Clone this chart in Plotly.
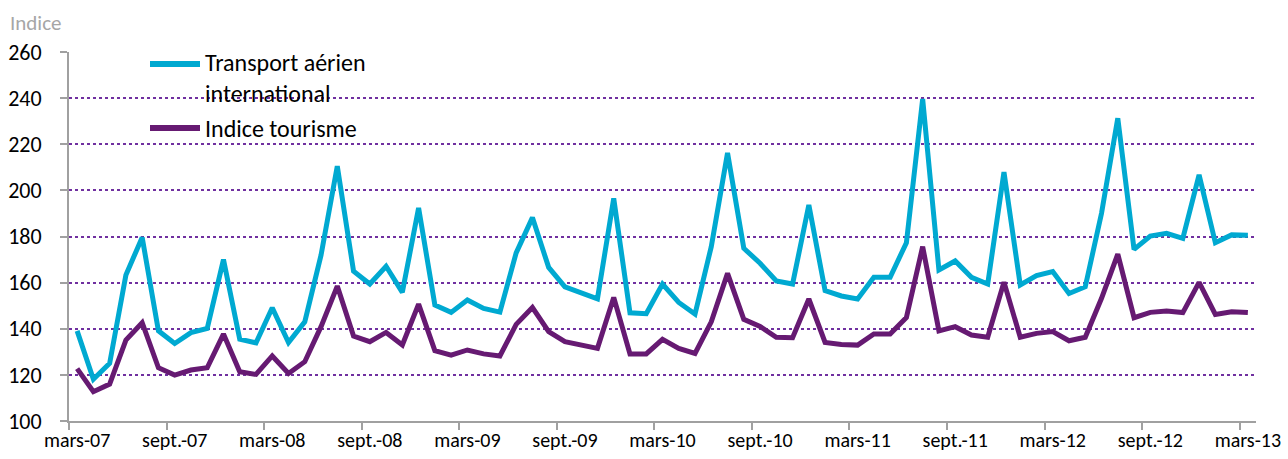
import plotly.graph_objects as go

# Monthly series, March 2007 to March 2013
months = [
    "mars-07", "avr.-07", "mai-07", "juin-07", "juil.-07", "août-07",
    "sept.-07", "oct.-07", "nov.-07", "déc.-07", "janv.-08", "févr.-08",
    "mars-08", "avr.-08", "mai-08", "juin-08", "juil.-08", "août-08",
    "sept.-08", "oct.-08", "nov.-08", "déc.-08", "janv.-09", "févr.-09",
    "mars-09", "avr.-09", "mai-09", "juin-09", "juil.-09", "août-09",
    "sept.-09", "oct.-09", "nov.-09", "déc.-09", "janv.-10", "févr.-10",
    "mars-10", "avr.-10", "mai-10", "juin-10", "juil.-10", "août-10",
    "sept.-10", "oct.-10", "nov.-10", "déc.-10", "janv.-11", "févr.-11",
    "mars-11", "avr.-11", "mai-11", "juin-11", "juil.-11", "août-11",
    "sept.-11", "oct.-11", "nov.-11", "déc.-11", "janv.-12", "févr.-12",
    "mars-12", "avr.-12", "mai-12", "juin-12", "juil.-12", "août-12",
    "sept.-12", "oct.-12", "nov.-12", "déc.-12", "janv.-13", "févr.-13",
    "mars-13",
]

transport_aerien = [
    139.1, 118.1, 125.0, 163.3, 179.6, 139.1, 133.6, 138.3, 140.1, 170.0,
    135.5, 133.9, 149.1, 134.0, 143.0, 171.9, 210.5, 165.0, 159.4, 167.1,
    155.8, 192.4, 150.3, 147.1, 152.5, 148.8, 147.2, 172.9, 188.2, 166.6,
    158.2, 155.6, 153.0, 196.5, 146.9, 146.5, 159.4, 151.4, 146.4, 175.6,
    216.2, 174.9, 168.4, 160.7, 159.4, 193.7, 156.5, 154.2, 152.9, 162.3,
    162.3, 177.3, 239.6, 165.5, 169.4, 162.3, 159.4, 207.9, 159.0, 163.1,
    164.8, 155.3, 158.2, 190.1, 231.3, 174.4, 180.2, 181.4, 179.2, 206.7,
    177.3, 180.7, 180.5,
]

indice_tourisme = [
    122.7, 112.7, 116.0, 135.1, 142.6, 123.1, 119.9, 122.1, 123.1, 137.7,
    121.4, 120.2, 128.2, 120.6, 125.7, 140.9, 158.5, 136.8, 134.4, 138.4,
    133.0, 150.7, 130.5, 128.6, 130.8, 129.1, 128.2, 141.9, 149.2, 138.7,
    134.4, 132.9, 131.5, 153.6, 129.1, 129.1, 135.4, 131.5, 129.3, 143.0,
    164.0, 144.1, 141.0, 136.3, 136.1, 152.9, 134.1, 133.2, 132.9, 137.7,
    137.7, 144.9, 175.6, 139.1, 140.9, 137.3, 136.3, 160.2, 136.3, 138.0,
    138.8, 134.8, 136.3, 153.2, 172.4, 144.8, 147.1, 147.7, 147.0, 160.1,
    146.2, 147.4, 147.0,
]

y_ticks = [100, 120, 140, 160, 180, 200, 220, 240, 260]

series_names = ["Transport aérien<br>international", "Indice tourisme"]

FONT = "Carlito, Lato, sans-serif"
BLUE = "#00a9d1"
PURPLE = "#661a72"
GRID = "#7030a0"
AXIS = "#a0a0a0"

# Plot area geometry (pixels) used to place the in-plot key
W, H = 1288, 459
ML, MR, MT, MB = 69, 32, 52, 38
PW, PH = W - ML - MR, H - MT - MB


def px_x(px):
    return (px - ML) / PW


def px_y(py):
    return (H - MB - py) / PH


idx = list(range(len(months)))
label_pos = idx[::6]
label_txt = [months[i] for i in label_pos]

fig = go.Figure()
for name, values, color in [
    (series_names[0], transport_aerien, BLUE),
    (series_names[1], indice_tourisme, PURPLE),
]:
    fig.add_trace(go.Scatter(
        x=idx, y=values, mode="lines", name=name,
        line=dict(color=color, width=5),
        showlegend=False,
    ))

# Key drawn inside the plot: sample line + label for each series
key_rows = [(64, BLUE, series_names[0]), (128, PURPLE, series_names[1])]
shapes = []
annotations = []
for row_y, color, label in key_rows:
    shapes.append(dict(
        type="line", xref="paper", yref="paper",
        x0=px_x(150), x1=px_x(200), y0=px_y(row_y), y1=px_y(row_y),
        line=dict(color=color, width=6),
    ))
    two_lines = "<br>" in label
    annotations.append(dict(
        text=label, xref="paper", yref="paper",
        x=px_x(204), y=px_y(row_y), xanchor="left",
        yanchor="top" if two_lines else "middle",
        yshift=17 if two_lines else 0,
        align="left", showarrow=False, borderpad=0,
        font=dict(family=FONT, size=24, color="#000000"),
    ))

annotations.append(dict(
    text="Indice", xref="paper", yref="paper",
    x=px_x(8), y=1.0, xanchor="left", yanchor="bottom", yshift=14,
    showarrow=False, font=dict(family=FONT, size=21, color="#a6a6a6"),
))

fig.update_layout(
    width=W, height=H,
    margin=dict(l=ML, r=MR, t=MT, b=MB, autoexpand=False),
    paper_bgcolor="white", plot_bgcolor="white",
    font=dict(family=FONT, color="#000000"),
    showlegend=False,
    shapes=shapes,
    annotations=annotations,
)

fig.update_xaxes(
    range=[-0.5, len(months) - 0.5],
    tickmode="array", tickvals=label_pos, ticktext=label_txt,
    ticks="", showgrid=False, zeroline=False, automargin=False,
    showline=True, linecolor=AXIS, linewidth=2,
    tickfont=dict(family=FONT, size=20, color="#000000"),
    minor=dict(ticks="outside", tick0=-0.5, dtick=6, ticklen=7,
               tickwidth=2, tickcolor=AXIS, showgrid=False),
)

fig.update_yaxes(
    range=[100, 260],
    tickmode="array", tickvals=y_ticks, automargin=False,
    ticks="outside", ticklen=7, tickwidth=2, tickcolor=AXIS,
    ticklabelstandoff=14,
    showline=True, linecolor=AXIS, linewidth=2,
    showgrid=True, gridcolor=GRID, gridwidth=2, griddash="dot",
    zeroline=False,
    tickfont=dict(family=FONT, size=22, color="#000000"),
)

fig.write_html("out.html")
